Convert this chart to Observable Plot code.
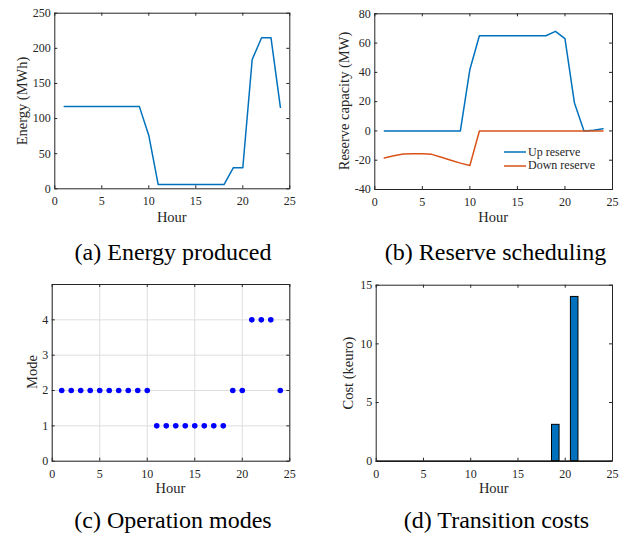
<!DOCTYPE html>
<html><head><meta charset="utf-8">
<script src="https://cdn.jsdelivr.net/npm/d3@7"></script>
<script src="https://cdn.jsdelivr.net/npm/@observablehq/plot@0.6"></script>
<style>
body{margin:0;background:#fff}
#wrap{position:relative;width:627px;height:536px;font-family:"Liberation Serif","DejaVu Serif",serif;color:#262626;overflow:hidden}
#wrap svg.plot{position:absolute}
.lbl{position:absolute;white-space:nowrap;font-size:14.5px;line-height:1}
.ttl{position:absolute;white-space:nowrap;font-size:24px;color:#000;line-height:1}
.leg{position:absolute;font-size:12px;line-height:1;white-space:nowrap}
</style></head><body><div id="wrap"></div>
<script>
// ---- data ----
const hours = [1,2,3,4,5,6,7,8,9,10,11,12,13,14,15,16,17,18,19,20,21,22,23,24];
const energy = [117,117,117,117,117,117,117,117,117,76,6,6,6,6,6,6,6,6,30,30,184,215,215,116];
const upReserve = [0,0,0,0,0,0,0,0,0,42,65,65,65,65,65,65,65,65,68,63,19,0,0.5,1.5];
const downReserve = [-18.5,-17,-15.7,-15.5,-15.5,-16,-18,-20,-22,-23.6,0,0,0,0,0,0,0,0,0,0,0,0,0,0];
const modes = [2,2,2,2,2,2,2,2,2,2,1,1,1,1,1,1,1,1,2,2,4,4,4,2];
const costs = [0,0,0,0,0,0,0,0,0,0,0,0,0,0,0,0,0,0,3.1,0,14,0,0,0];
const hourTicks = [0,5,10,15,20,25];
const energyTicks = [0,50,100,150,200,250];
const reserveTicks = [-40,-20,0,20,40,60,80];
const modeTicks = [0,1,2,3,4];
const costTicks = [0,5,10,15];
const seriesNames = ["Up reserve","Down reserve"];
const seriesColors = ["#0072BD","#D95319"];
const titles = ["(a) Energy produced","(b) Reserve scheduling","(c) Operation modes","(d) Transition costs"];
const yLabels = ["Energy (MWh)","Reserve capacity (MW)","Mode","Cost (keuro)"];
const xLabel = "Hour";

const energyData = hours.map((h,i)=>({hour:h, value:energy[i]}));
const reserveData = hours.flatMap((h,i)=>[
  {hour:h, value:upReserve[i], series:seriesNames[0]},
  {hour:h, value:downReserve[i], series:seriesNames[1]}]);
const modeData = hours.map((h,i)=>({hour:h, mode:modes[i]}));
const costData = hours.map((h,i)=>({hour:h, cost:costs[i]}));

const wrap = document.getElementById("wrap");
const INK = "#262626";
const FONT = '"Liberation Serif","DejaVu Serif",serif';

function panel({left, top, w, h, rect, xDomain, yDomain, xTicks, yTicks, marks, grid}) {
  const [x0,y0,x1,y1] = rect;
  const ml = x0-left, mt = y0-top, mr = left+w-x1, mb = top+h-y1;
  const pw = x1-x0, ph = y1-y0, tl = 3;
  const gridMarks = grid ? [
    Plot.ruleX(xTicks, {x:d=>d, stroke:"#dedede"}),
    Plot.ruleY(yTicks, {y:d=>d, stroke:"#dedede"})
  ] : [];
  const svg = Plot.plot({
    width:w, height:h, marginLeft:ml, marginTop:mt, marginRight:mr, marginBottom:mb,
    style:{fontFamily:FONT, fontSize:"12px", color:INK, background:"transparent", overflow:"visible"},
    x:{domain:xDomain}, y:{domain:yDomain},
    marks:[
      ...gridMarks,
      ...marks,
      Plot.tickX(xTicks, {x:d=>d, insetTop:ph-tl, stroke:INK}),
      Plot.tickX(xTicks, {x:d=>d, insetBottom:ph-tl, stroke:INK}),
      Plot.tickY(yTicks, {y:d=>d, insetRight:pw-tl, stroke:INK}),
      Plot.tickY(yTicks, {y:d=>d, insetLeft:pw-tl, stroke:INK}),
      Plot.axisX(xTicks, {tickSize:0, tickPadding:8, tickFormat:d=>String(d), label:null, fill:INK, fontFamily:FONT}),
      Plot.axisY(yTicks, {tickSize:0, tickPadding:4, tickFormat:d=>String(d), label:null, fill:INK, fontFamily:FONT}),
      Plot.frame({stroke:INK})
    ]
  });
  svg.classList.add("plot");
  svg.style.left = left+"px"; svg.style.top = top+"px";
  wrap.appendChild(svg);
}

function addText(cls, text, cx, top, rotate) {
  const d = document.createElement("div");
  d.className = cls; d.textContent = text;
  d.style.left = cx+"px"; d.style.top = top+"px";
  d.style.transform = rotate ? "translate(-50%,-50%) rotate(-90deg)" : "translateX(-50%)";
  wrap.appendChild(d);
}

// (a)
panel({left:0, top:0, w:313, h:235, rect:[54.3,12.7,289.3,188.3], xDomain:[0,25], yDomain:[0,250],
  xTicks:hourTicks, yTicks:energyTicks,
  marks:[Plot.line(energyData, {x:"hour", y:"value", stroke:seriesColors[0], strokeWidth:1.5})]});
// (b)
panel({left:313, top:0, w:314, h:235, rect:[374.3,13.3,612,189], xDomain:[0,25], yDomain:[-40,80],
  xTicks:hourTicks, yTicks:reserveTicks,
  marks:[Plot.line(reserveData, {x:"hour", y:"value", z:"series",
    stroke:d=>seriesColors[seriesNames.indexOf(d.series)], strokeWidth:1.5})]});
// (c)
panel({left:0, top:272, w:313, h:235, rect:[51.7,284,289.3,460.7], xDomain:[0,25], yDomain:[0,5],
  xTicks:hourTicks, yTicks:modeTicks, grid:true,
  marks:[Plot.dot(modeData, {x:"hour", y:"mode", r:2.8, fill:"#0000ff", stroke:null})]});
// (d)
panel({left:313, top:272, w:314, h:235, rect:[375.7,284.7,612,460.7], xDomain:[0,25], yDomain:[0,15],
  xTicks:hourTicks, yTicks:costTicks,
  marks:[
    Plot.rectY(costData.filter(d=>d.cost>0), {x1:d=>d.hour-0.4, x2:d=>d.hour+0.4, y1:0, y2:"cost",
      fill:"#0072BD", stroke:"#000", strokeWidth:1}),
    Plot.ruleY([0], {stroke:"#000", strokeWidth:1.6})
  ]});

// axis labels
addText("lbl", xLabel, 171.8, 210);
addText("lbl", xLabel, 493.2, 210);
addText("lbl", xLabel, 170.5, 481);
addText("lbl", xLabel, 493.8, 481);
addText("lbl", yLabels[0], 21.5, 100.5, true);
addText("lbl", yLabels[1], 344, 101, true);
addText("lbl", yLabels[2], 32, 372, true);
addText("lbl", yLabels[3], 347.5, 372.7, true);
// titles
addText("ttl", titles[0], 173, 240);
addText("ttl", titles[1], 495.5, 240);
addText("ttl", titles[2], 173, 508);
addText("ttl", titles[3], 496.5, 508);

// legend for (b)
const ly = [152.3, 165.7];
seriesNames.forEach((name,i)=>{
  const s = document.createElementNS("http://www.w3.org/2000/svg","svg");
  s.setAttribute("width","24"); s.setAttribute("height","4");
  s.style.position="absolute"; s.style.left="503px"; s.style.top=(ly[i]-2)+"px";
  const l = document.createElementNS("http://www.w3.org/2000/svg","line");
  l.setAttribute("x1","1"); l.setAttribute("x2","23"); l.setAttribute("y1","2"); l.setAttribute("y2","2");
  l.setAttribute("stroke", seriesColors[i]); l.setAttribute("stroke-width","1.5");
  s.appendChild(l); wrap.appendChild(s);
  const t = document.createElement("div");
  t.className="leg"; t.textContent=name;
  t.style.left="528px"; t.style.top=(ly[i]-6.5)+"px";
  wrap.appendChild(t);
});
</script></body></html>
